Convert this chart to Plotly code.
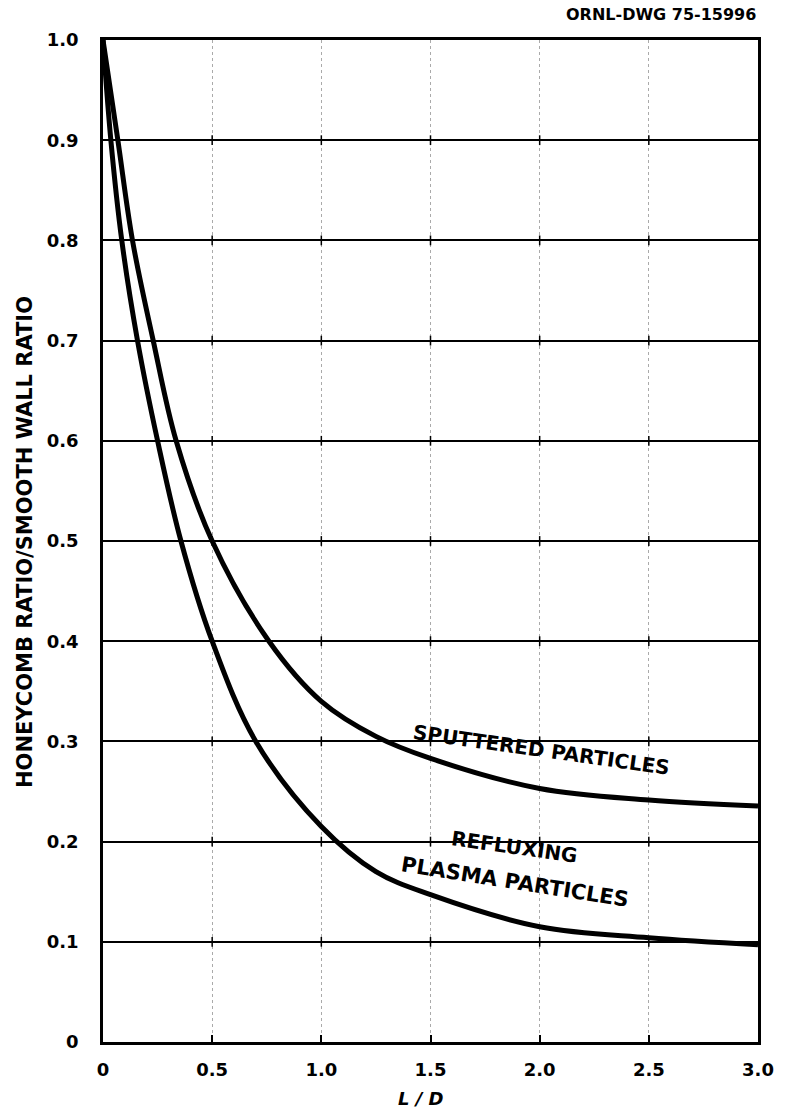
import plotly.graph_objects as go

# Data
sput_x = [0.0, 0.068, 0.135, 0.23, 0.335, 0.50, 0.76, 1.0, 1.25, 1.5, 2.0, 2.5, 3.0]
sput_y = [1.0, 0.90, 0.80, 0.70, 0.60, 0.50, 0.40, 0.34, 0.305, 0.283, 0.253, 0.2415, 0.2355]

refl_x = [0.0, 0.036, 0.086, 0.158, 0.25, 0.357, 0.50, 0.70, 1.0, 1.25, 1.5, 2.0, 2.5, 3.0]
refl_y = [1.0, 0.90, 0.80, 0.70, 0.60, 0.50, 0.40, 0.30, 0.215, 0.17, 0.147, 0.115, 0.104, 0.097]

x_ticks = [0, 0.5, 1.0, 1.5, 2.0, 2.5, 3.0]
x_labels = ["0", "0.5", "1.0", "1.5", "2.0", "2.5", "3.0"]
y_ticks = [0, 0.1, 0.2, 0.3, 0.4, 0.5, 0.6, 0.7, 0.8, 0.9, 1.0]
y_labels = ["0", "0.1", "0.2", "0.3", "0.4", "0.5", "0.6", "0.7", "0.8", "0.9", "1.0"]

FONT = "DejaVu Sans"

fig = go.Figure()

# small cross marks at grid intersections
gx, gy = [], []
for xv in x_ticks[1:-1]:
    for yv in y_ticks[1:-1]:
        gx.append(xv)
        gy.append(yv)
fig.add_trace(go.Scatter(x=gx, y=gy, mode="markers",
                         marker=dict(symbol="line-ns", size=7, line=dict(width=1.5, color="black")),
                         hoverinfo="skip", showlegend=False))

fig.add_trace(go.Scatter(x=sput_x, y=sput_y, mode="lines", line=dict(color="black", width=5, shape="spline", smoothing=1.0),
                         name="Sputtered particles", showlegend=False))
fig.add_trace(go.Scatter(x=refl_x, y=refl_y, mode="lines", line=dict(color="black", width=5, shape="spline", smoothing=1.0),
                         name="Refluxing plasma particles", showlegend=False))

fig.update_layout(
    width=786, height=1110,
    margin=dict(l=103, r=19, t=40, b=68),
    plot_bgcolor="white", paper_bgcolor="white",
    font=dict(family=FONT, color="black", size=15),
    xaxis=dict(range=[0, 3.0], tickvals=x_ticks, ticktext=x_labels,
               showgrid=True, gridcolor="#aaaaaa", griddash="dot", gridwidth=1,
               showline=True, linecolor="black", linewidth=2.5, mirror=True,
               ticks="inside", ticklen=7, tickwidth=1.5, tickcolor="black",
               ticklabelstandoff=10,
               tickfont=dict(family=FONT, size=18, color="black", weight="bold"),
               zeroline=False),
    yaxis=dict(range=[0, 1.0], tickvals=y_ticks, ticktext=y_labels,
               showgrid=True, gridcolor="black", gridwidth=1.5,
               showline=True, linecolor="black", linewidth=2.5, mirror=True,
               ticks="", ticklabelstandoff=18,
               tickfont=dict(family=FONT, size=18, color="black", weight="bold"),
               zeroline=False),
)

ann = dict(xref="paper", yref="paper", showarrow=False)
fig.add_annotation(text="ORNL-DWG 75-15996", x=1.0, y=1.0, xanchor="right", yanchor="bottom", yshift=14,
                   font=dict(family=FONT, size=16, color="black", weight="bold"), **ann)
fig.add_annotation(text="<i>L / D</i>", x=0.485, y=0, xanchor="center", yanchor="top", yshift=-44,
                   font=dict(family=FONT, size=18, color="black", weight="bold"), **ann)
fig.add_annotation(text="HONEYCOMB RATIO/SMOOTH WALL RATIO", x=0, xanchor="center", yanchor="middle",
                   xshift=-78, y=0.499, textangle=-90,
                   font=dict(family=FONT, size=21, color="black", weight="bold"), **ann)

dxa = dict(xref="x", yref="y", showarrow=False, xanchor="center", yanchor="middle")
fig.add_annotation(text="SPUTTERED PARTICLES", x=2.01, y=0.291, textangle=8,
                   font=dict(family=FONT, size=20, color="black", weight="bold"), **dxa)
fig.add_annotation(text="REFLUXING", x=1.885, y=0.195, textangle=8,
                   font=dict(family=FONT, size=20, color="black", weight="bold"), **dxa)
fig.add_annotation(text="PLASMA PARTICLES", x=1.885, y=0.16, textangle=9,
                   font=dict(family=FONT, size=21, color="black", weight="bold"), **dxa)

fig.write_html("out.html")
